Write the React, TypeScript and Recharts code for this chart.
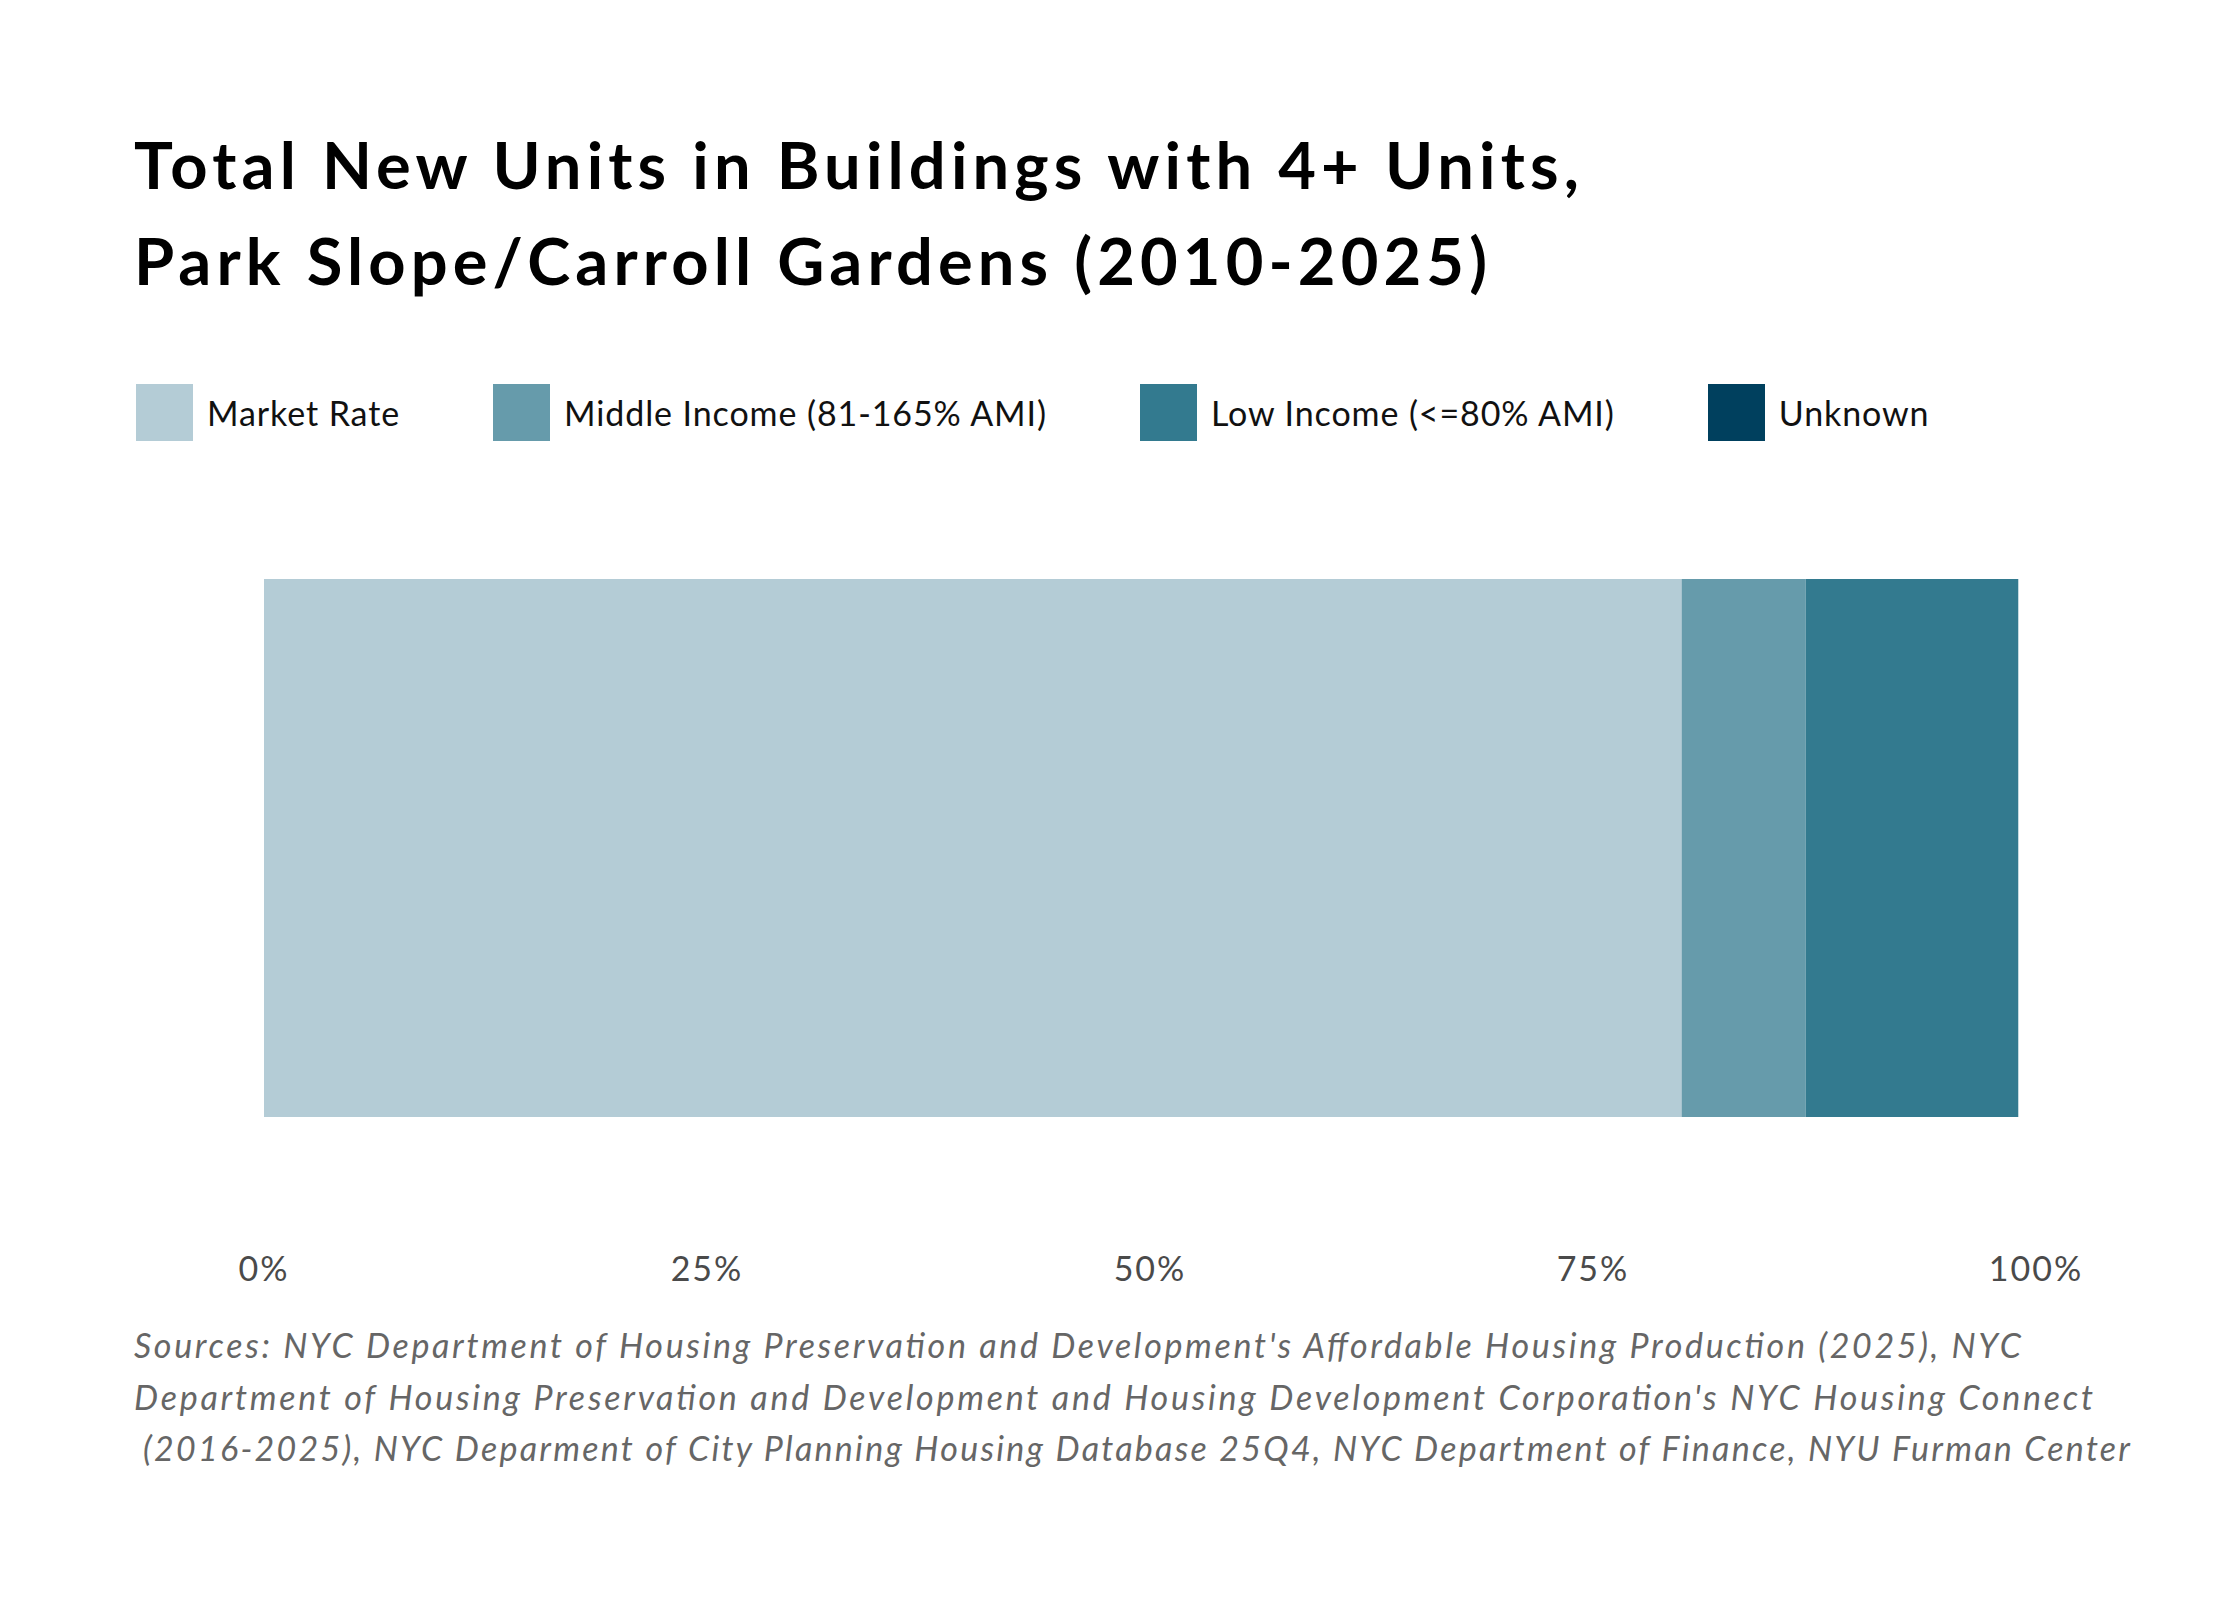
import { Bar, BarChart, XAxis, YAxis } from 'recharts';

const categories = ['Park Slope/Carroll Gardens'];
const seriesNames = ['Market Rate', 'Middle Income (81-165% AMI)', 'Low Income (<=80% AMI)', 'Unknown'];
const seriesKeys = ['market', 'middle', 'low', 'unknown'];
const seriesColors = ['#b4ccd6', '#669bab', '#337a8f', '#00405e'];
const marketRate = [80];
const middleIncome = [7];
const lowIncome = [12];
const unknownIncome = [0];
const xTicks = [0, 25, 50, 75, 100];

const titleLines = [
  'Total New Units in Buildings with 4+ Units,',
  'Park Slope/Carroll Gardens (2010-2025)',
];
// target widths of each line, to match the original's wider typeface
const titleWidths = [1445, 1353];
const sourceLines = [
  "Sources: NYC Department of Housing Preservation and Development's Affordable Housing Production (2025), NYC",
  "Department of Housing Preservation and Development and Housing Development Corporation's NYC Housing Connect",
  '(2016-2025), NYC Deparment of City Planning Housing Database 25Q4, NYC Department of Finance, NYU Furman Center',
];
const sourceWidths = [1887, 1959, 1996];
const sourceIndent = [0, 0, 9];

const data = categories.map((name, i) => ({
  name,
  market: marketRate[i],
  middle: middleIncome[i],
  low: lowIncome[i],
  unknown: unknownIncome[i],
}));

const FONT = 'Lato, "Open Sans", sans-serif';

const App = () => {
  return (
    <div style={{ position: 'relative', width: 2224, height: 1584, fontFamily: FONT }}>
      <div style={{ position: 'absolute', left: -8, top: -8, width: 2240, height: 1600, background: '#fff' }}>
        <BarChart
          width={2240}
          height={1600}
          data={data}
          layout="vertical"
          barCategoryGap={0}
          margin={{ top: 579, right: 204, bottom: 283, left: 264 }}
        >
          <XAxis
            type="number"
            domain={[0, 100]}
            ticks={xTicks}
            tickFormatter={(v) => `${v}%`}
            axisLine={false}
            tickLine={false}
            tickSize={0}
            tickMargin={140}
            height={200}
            interval={0}
            tick={{ fill: '#4a4a4a', fontSize: 34, fontFamily: FONT, letterSpacing: 2 }}
          />
          <YAxis type="category" dataKey="name" hide />
          {seriesKeys.map((k, i) => (
            <Bar key={k} dataKey={k} stackId="a" fill={seriesColors[i]} isAnimationActive={false} />
          ))}
        </BarChart>

        <svg width={2240} height={1600} style={{ position: 'absolute', left: 0, top: 0, pointerEvents: 'none' }}>
          {titleLines.map((t, i) => (
            <text
              key={t}
              x={134}
              y={189 + i * 96}
              fontSize={65}
              fontWeight={700}
              fontFamily={FONT}
              fill="#000"
              textLength={titleWidths[i]}
              lengthAdjust="spacing"
            >
              {t}
            </text>
          ))}
          {sourceLines.map((t, i) => (
            <text
              key={t}
              x={134 + sourceIndent[i]}
              y={1358 + i * 51.5}
              fontSize={34}
              fontStyle="italic"
              fontFamily={FONT}
              fill="#666"
              textLength={sourceWidths[i] - sourceIndent[i]}
              lengthAdjust="spacing"
            >
              {t}
            </text>
          ))}
        </svg>

        <div style={{ position: 'absolute', left: 136, top: 384, display: 'flex', alignItems: 'center' }}>
          {seriesNames.map((n, i) => (
            <div key={n} style={{ display: 'flex', alignItems: 'center', marginRight: 93 }}>
              <div style={{ width: 57, height: 57, background: seriesColors[i] }} />
              <span style={{ marginLeft: 14, fontSize: 34, color: '#111', whiteSpace: 'pre', letterSpacing: 0.9 }}>{n}</span>
            </div>
          ))}
        </div>
      </div>
    </div>
  );
};

export default App;
